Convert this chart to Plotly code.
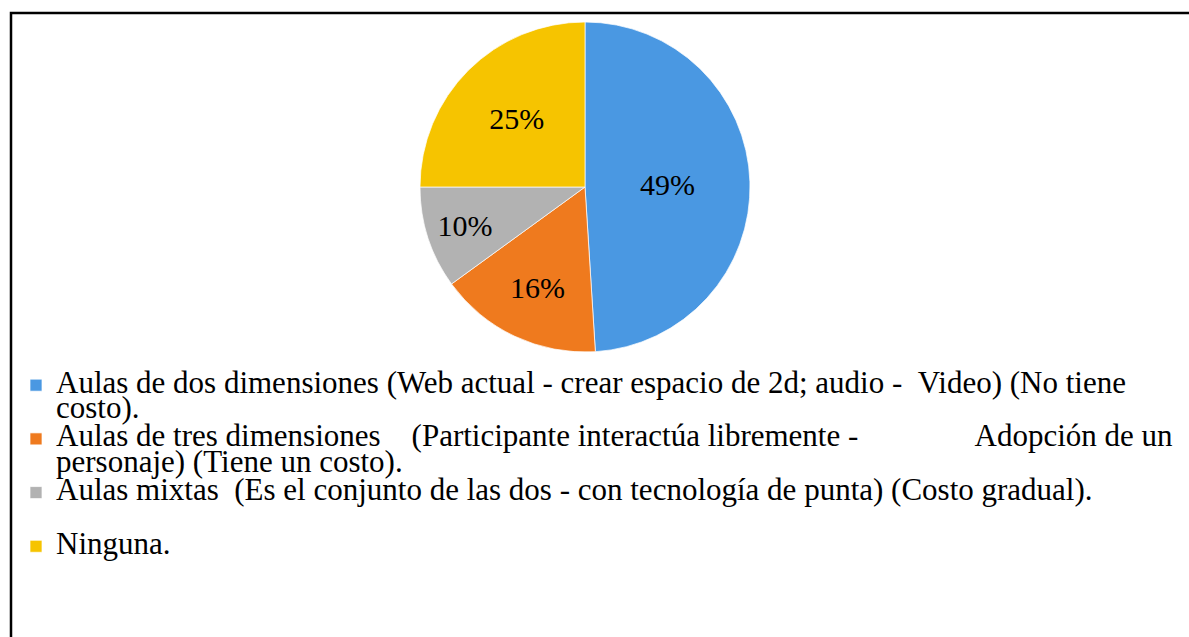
import plotly.graph_objects as go

# ---- data ----
categories = [
    "Aulas de dos dimensiones",
    "Aulas de tres dimensiones",
    "Aulas mixtas",
    "Ninguna",
]
values = [49, 16, 10, 25]
colors = ["#4a98e2", "#ef7a1e", "#b2b2b2", "#f6c400"]
NB = "\u00a0"
legend_lines = [
    ["Aulas de dos dimensiones (Web actual - crear espacio de 2d; audio -" + NB * 2 + "Video) (No tiene",
     "costo)."],
    ["Aulas de tres dimensiones" + NB * 4 + "(Participante interactúa libremente -" + NB * 15 + "Adopción de un",
     "personaje) (Tiene un costo)."],
    ["Aulas mixtas" + NB * 2 + "(Es el conjunto de las dos - con tecnología de punta) (Costo gradual).",
     NB],
    ["Ninguna."],
]

FONT = "Liberation Serif"
W, H = 1189, 637


def big(s):
    return '<span style="font-family:Liberation Serif;font-size:31px">' + s + "</span>"


labels = ["<br>".join(big(l) for l in lines) for lines in legend_lines]

fig = go.Figure(
    go.Pie(
        labels=labels,
        values=values,
        sort=False,
        direction="clockwise",
        rotation=0,
        marker=dict(colors=colors, line=dict(color="rgba(255,255,255,0.7)", width=1)),
        texttemplate="%{percent:.0%}",
        textposition="inside",
        insidetextorientation="horizontal",
        textfont=dict(family=FONT, size=30, color="black"),
        hoverinfo="skip",
        domain=dict(x=[420 / W, 750 / W], y=[(H - 352) / H, (H - 22) / H]),
    )
)

fig.add_shape(
    type="rect", xref="paper", yref="paper",
    x0=11 / W, x1=1.05, y0=-0.05, y1=(H - 13) / H,
    line=dict(color="black", width=2.5), fillcolor="rgba(0,0,0,0)",
)

fig.update_layout(
    width=W, height=H,
    margin=dict(l=0, r=0, t=0, b=0),
    paper_bgcolor="white",
    plot_bgcolor="white",
    font=dict(family=FONT, size=19.5, color="black"),
    showlegend=True,
    legend=dict(
        x=16 / W, y=(H - 366) / H, xanchor="left", yanchor="top",
        font=dict(family=FONT, size=19.5, color="black"),
        bgcolor="rgba(0,0,0,0)",
        traceorder="normal",
        itemwidth=30,
        valign="top",
    ),
)

fig.write_html(
    "out.html",
    config={"displayModeBar": False},
    post_script="document.body.style.margin='0';document.body.style.overflow='hidden';",
)
